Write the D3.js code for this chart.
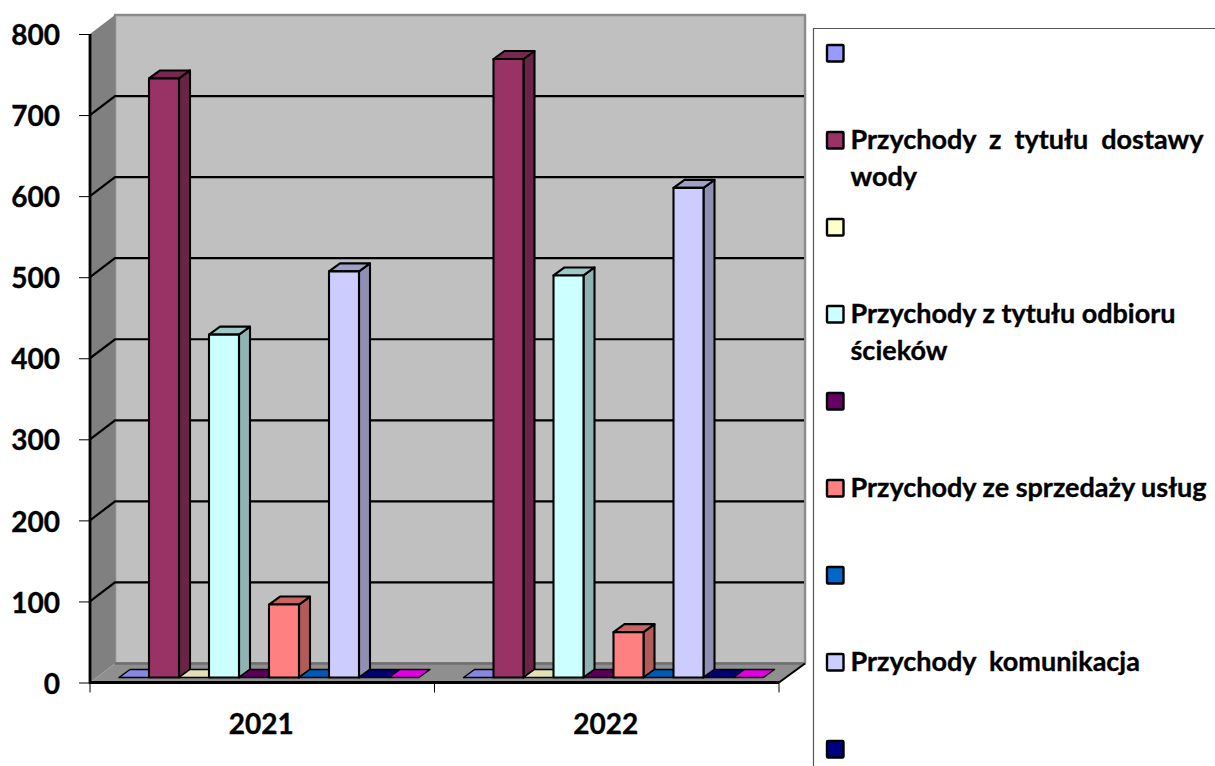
<!DOCTYPE html>
<html>
<head>
<meta charset="utf-8">
<script src="https://cdn.jsdelivr.net/npm/d3@7"></script>
<style>
  html, body { margin: 0; padding: 0; background: #fff; overflow: hidden; }
  text { font-family: Lato, "Noto Sans", sans-serif; font-weight: 700; fill: #000; stroke: #000; stroke-width: 0.35; }
</style>
</head>
<body>
<svg></svg>
<script>
const years = ["2021", "2022"];
const seriesColors = ["#9999ff", "#993366", "#ffffcc", "#ccffff", "#660066", "#ff8080", "#0066cc", "#ccccff", "#000080", "#ff00ff"];
const values2021 = [0, 739, 0, 423, 0, 90, 0, 501, 0, 0];
const values2022 = [0, 763, 0, 496, 0, 56, 0, 604, 0, 0];
const yTicks = [0, 100, 200, 300, 400, 500, 600, 700, 800];

// legend rows: lines as broken in the picture, empty = no label
const legendLines = [
  [],
  ["Przychody z tytułu dostawy", "wody"],
  [],
  ["Przychody z tytułu odbioru", "ścieków"],
  [],
  ["Przychody ze sprzedaży usług"],
  [],
  ["Przychody  komunikacja"],
  []
];

const size = { w: 1215, h: 766 };
const plot = { l: 90, r: 779, t: 34, b: 682.5 };
const depth = { x: 25, y: -19 };    // wall offset from the front plane
const barDepth = { x: 11, y: -8 };
const barShift = { x: 7.5, y: -5 };

const svg = d3.select("svg").attr("width", size.w).attr("height", size.h);

const x0 = d3.scaleBand().domain(years).range([plot.l, plot.r]);
const x1 = d3.scaleBand().domain(d3.range(seriesColors.length)).range([21.5, 321.5]);
const y = d3.scaleLinear().domain([0, 800]).range([plot.b, plot.t]);

const poly = (g, pts, fill, stroke, sw) =>
  g.append("path")
    .attr("d", d3.line()(pts) + "Z")
    .attr("fill", fill)
    .attr("stroke", stroke)
    .attr("stroke-width", sw)
    .attr("stroke-linejoin", "round");

function drawWalls(g) {
  const xl = plot.l, xr = plot.r, yt = y(800), yb = y(0);
  const dx = depth.x, dy = depth.y;
  // back wall
  poly(g, [[xl + dx, yt + dy], [xr + dx + 1, yt + dy], [xr + dx + 1, yb + dy], [xl + dx, yb + dy]], "#c0c0c0", "#8c8c8c", 2.5);
  // left wall
  poly(g, [[xl, yt], [xl + dx, yt + dy], [xl + dx, yb + dy], [xl, yb]], "#808080", "none", 0);
  // floor
  poly(g, [[xl, yb], [xr, yb], [xr + dx + 1, yb + dy], [xl + dx, yb + dy]], "#8f8f8f", "none", 0);
  // gridlines, across the wall and back along the left side
  g.selectAll("path.grid")
    .data(yTicks.slice(1, -1))
    .enter()
    .append("path")
    .classed("grid", true)
    .attr("fill", "none")
    .attr("stroke", "#000")
    .attr("stroke-width", 2.2)
    .attr("d", function (d) {
      return d3.line()([[xl, y(d)], [xl + dx, y(d) + dy], [xr + dx, y(d) + dy]]);
    });
  g.append("path")
    .attr("d", d3.line()([[xl + dx, yb + dy], [xr + dx, yb + dy]]))
    .attr("stroke", "#6e6e6e")
    .attr("stroke-width", 2.5);
  // front edges
  g.append("path")
    .attr("fill", "none")
    .attr("stroke", "#000")
    .attr("stroke-width", 2)
    .attr("d", d3.line()([[xr, yb], [xr + dx + 1, yb + dy]]));
  g.append("path")
    .attr("fill", "none")
    .attr("stroke", "#000")
    .attr("stroke-width", 2.8)
    .attr("d", d3.line()([[xl, yt], [xl, yb], [xr, yb]]));
}

function drawBars(g, year, values) {
  values.forEach(function (v, i) {
    const left = x0(year) + x1(i) + barShift.x;
    const right = left + x1.bandwidth();
    const base = y(0) + barShift.y;
    const top = y(v) + barShift.y;
    const dx = barDepth.x, dy = barDepth.y;
    const color = d3.color(seriesColors[i]);
    const bar = g.append("g").attr("series", i);
    if (v === 0) {
      poly(bar, [[left, top], [right, top], [right + dx, top + dy], [left + dx, top + dy]], color.darker(0.35), "#000", 1.4);
      return;
    }
    poly(bar, [[right, top], [right + dx, top + dy], [right + dx, base + dy], [right, base]], color.darker(1), "#000", 2.1);
    poly(bar, [[left, top], [right, top], [right + dx, top + dy], [left + dx, top + dy]], color.darker(0.7), "#000", 2.1);
    poly(bar, [[left, top], [right, top], [right, base], [left, base]], color, "#000", 2.1);
  });
}

function drawAxes(g) {
  const yAxis = d3.axisLeft(y).tickValues(yTicks).tickSize(11).tickPadding(19);
  const ya = g.append("g").attr("transform", `translate(${plot.l},0)`).call(yAxis);
  ya.select(".domain").remove();
  ya.selectAll("line").attr("stroke", "#000").attr("stroke-width", 1);
  ya.selectAll("text").attr("font-size", 28).attr("fill", "#000").attr("dy", "0.38em");

  const ticks = [plot.l, x0("2022"), plot.r];
  g.selectAll("line.xtick")
    .data(ticks)
    .enter()
    .append("line")
    .classed("xtick", true)
    .attr("x1", function (d) { return d; })
    .attr("x2", function (d) { return d; })
    .attr("y1", y(0))
    .attr("y2", y(0) + 10)
    .attr("stroke", "#000")
    .attr("stroke-width", 1);

  g.selectAll("text.year")
    .data(years)
    .enter()
    .append("text")
    .classed("year", true)
    .attr("x", function (d) { return x0(d) + x0.bandwidth() / 2 - 1; })
    .attr("y", 734)
    .attr("text-anchor", "middle")
    .attr("font-size", 28)
    .text(function (d) { return d; });
}

function drawLegend(g) {
  const boxX = 813.5, boxY = 28.5;
  g.append("path")
    .attr("fill", "none")
    .attr("stroke", "#555")
    .attr("stroke-width", 1.2)
    .attr("d", d3.line()([[size.w + 2, boxY], [boxX, boxY], [boxX, size.h + 2]]));

  const row = d3.scaleLinear().domain([0, 8]).range([53.5, 749.5]);
  legendLines.forEach(function (lines, i) {
    g.append("rect")
      .attr("x", 827)
      .attr("y", row(i) - 8.5)
      .attr("width", 16.5)
      .attr("height", 16.5)
      .attr("rx", 1)
      .attr("fill", seriesColors[i])
      .attr("stroke", "#000")
      .attr("stroke-width", 2.4);
    lines.forEach(function (line, j) {
      const t = g.append("text")
        .attr("x", 850.5)
        .attr("y", row(i) + 8.5 + j * 37)
        .attr("font-size", 27)
        .style("white-space", "pre")
        .text(line);
      // first legend row is justified in the picture
      if (i === 1 && j === 0) t.attr("word-spacing", 6.5);
    });
  });
}

drawWalls(svg.append("g").classed("walls", true));
const barsG = svg.append("g").classed("bars", true);
drawBars(barsG, "2021", values2021);
drawBars(barsG, "2022", values2022);
drawAxes(svg.append("g").classed("axes", true));
drawLegend(svg.append("g").classed("legend", true));
</script>
</body>
</html>
